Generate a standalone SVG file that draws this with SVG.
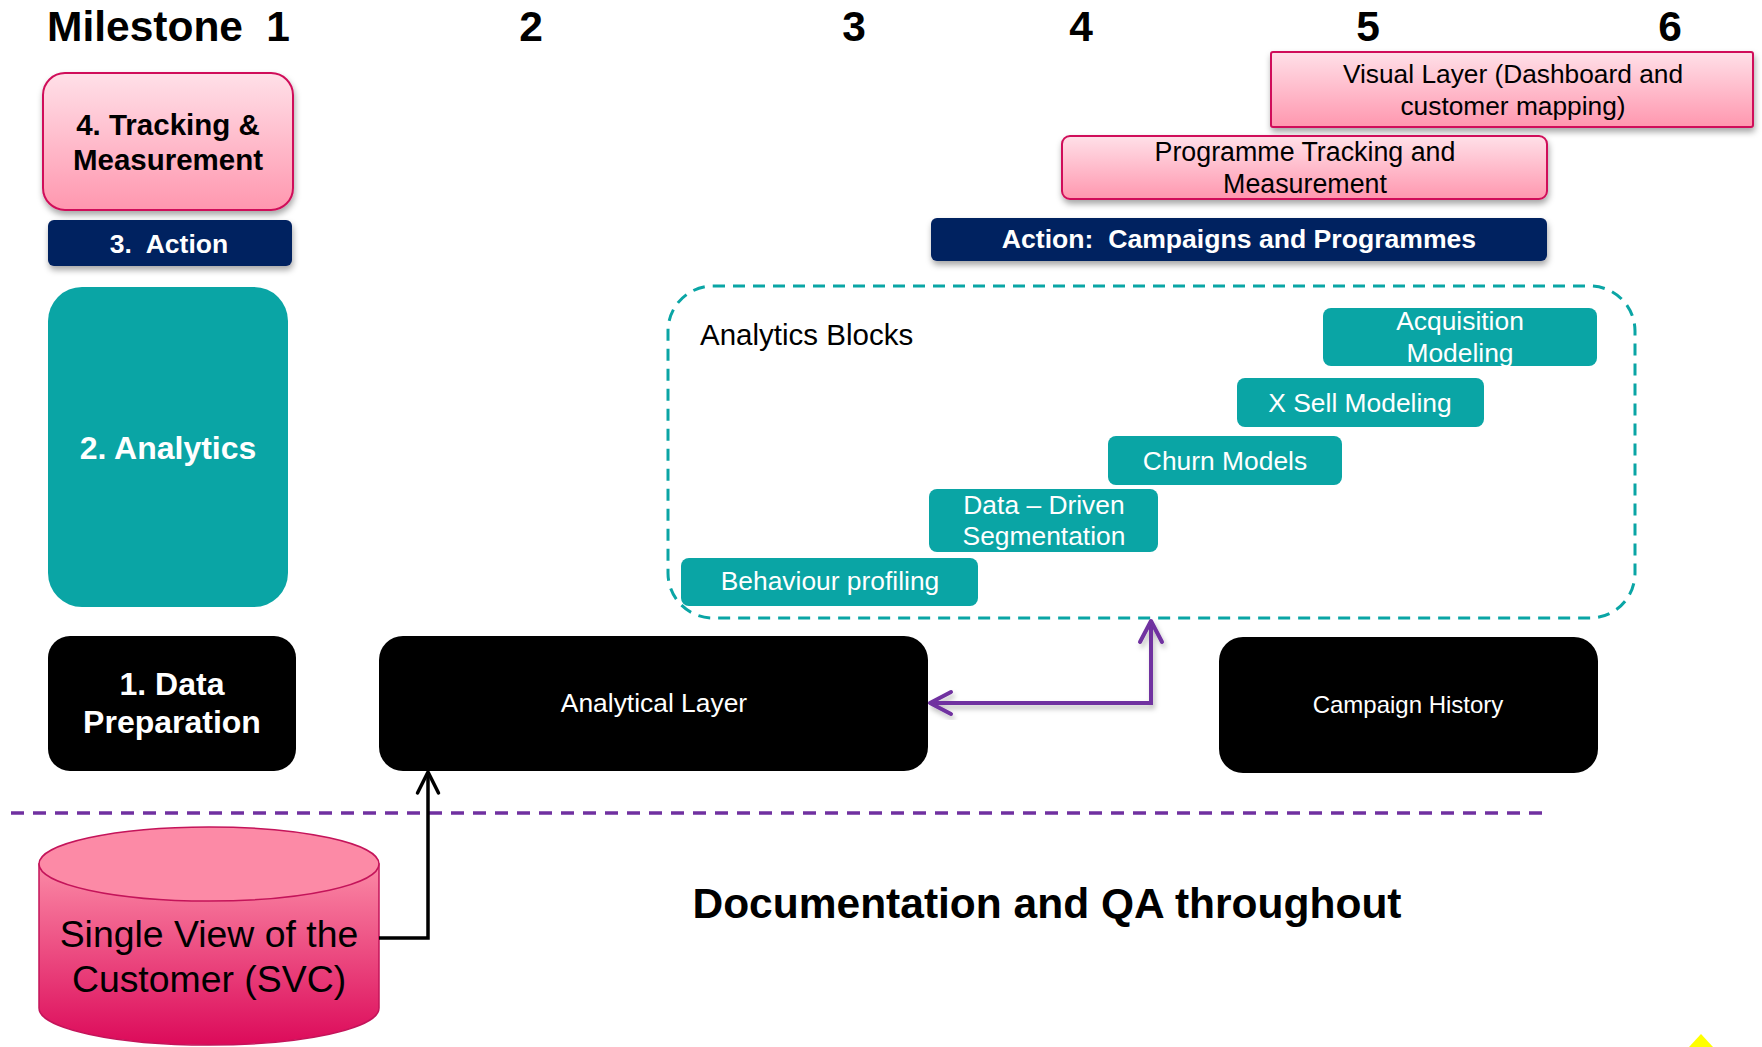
<svg xmlns="http://www.w3.org/2000/svg" width="1762" height="1047" viewBox="0 0 1762 1047">
  <defs>
    <style>
      text { font-family: "Liberation Sans", Arial, sans-serif; }
      .hdr { font-size: 42.5px; font-weight: bold; fill: #000; }
      .pinkbox { fill: url(#pinkGrad); stroke: #d0105a; stroke-width: 2; }
      .navy { fill: #002060; }
      .teal { fill: #0aa5a5; }
      .black { fill: #000; }
      .lbl-bold-dark { font-weight: bold; fill: #000; text-anchor: middle; }
      .lbl-bold-light { font-weight: bold; fill: #fff; text-anchor: middle; }
      .lbl-dark { fill: #000; text-anchor: middle; }
      .lbl-light { fill: #fff; text-anchor: middle; }
      .block-txt { font-size: 26.4px; fill: #fff; text-anchor: middle; }
      .shadowed { filter: url(#shadow); }
    </style>
    <linearGradient id="pinkGrad" x1="0" y1="0" x2="0" y2="1">
      <stop offset="0" stop-color="#ffe0e8"/>
      <stop offset="1" stop-color="#ff97af"/>
    </linearGradient>
    <linearGradient id="cylGrad" x1="0" y1="864" x2="0" y2="1045" gradientUnits="userSpaceOnUse">
      <stop offset="0" stop-color="#fb8aa6"/>
      <stop offset="1" stop-color="#dc0a5a"/>
    </linearGradient>
    <filter id="shadow" x="-10%" y="-20%" width="120%" height="160%">
      <feDropShadow dx="1" dy="4" stdDeviation="3" flood-color="#000" flood-opacity="0.35"/>
    </filter>
    <filter id="lineShadow" x="-10%" y="-10%" width="120%" height="130%">
      <feDropShadow dx="2" dy="4" stdDeviation="2.5" flood-color="#000" flood-opacity="0.25"/>
    </filter>
    <marker id="chevPurple" viewBox="-24 -14 28 28" refX="0" refY="0" markerWidth="28" markerHeight="28" markerUnits="userSpaceOnUse" orient="auto-start-reverse">
      <path d="M-21,-11 L0,0 L-21,11" fill="none" stroke="#7030a0" stroke-width="4" stroke-linecap="round" stroke-linejoin="round"/>
    </marker>
    <marker id="chevBlack" viewBox="-24 -14 28 28" refX="0" refY="0" markerWidth="28" markerHeight="28" markerUnits="userSpaceOnUse" orient="auto">
      <path d="M-21,-10.5 L0,0 L-21,10.5" fill="none" stroke="#000" stroke-width="3.5" stroke-linecap="round" stroke-linejoin="round"/>
    </marker>
  </defs>

  <rect width="1762" height="1047" fill="#fff"/>

  <!-- Milestone header -->
  <g id="milestones">
    <text class="hdr" x="47" y="41">Milestone</text>
    <text class="hdr" x="278" y="41" text-anchor="middle">1</text>
    <text class="hdr" x="531" y="41" text-anchor="middle">2</text>
    <text class="hdr" x="854" y="41" text-anchor="middle">3</text>
    <text class="hdr" x="1081" y="41" text-anchor="middle">4</text>
    <text class="hdr" x="1368" y="41" text-anchor="middle">5</text>
    <text class="hdr" x="1670" y="41" text-anchor="middle">6</text>
  </g>

  <!-- Left-hand stage column -->
  <g id="stage-tracking">
    <rect class="pinkbox shadowed" x="43" y="73" width="250" height="137" rx="22"/>
    <text class="lbl-bold-dark" x="168" y="135" font-size="29.5">4. Tracking &amp;</text>
    <text class="lbl-bold-dark" x="168" y="170" font-size="29.5">Measurement</text>
  </g>
  <g id="stage-action">
    <rect class="navy shadowed" x="48" y="220" width="244" height="46" rx="6"/>
    <text class="lbl-bold-light" x="169" y="253" font-size="26.5" xml:space="preserve">3.  Action</text>
  </g>
  <g id="stage-analytics">
    <rect class="teal" x="48" y="287" width="240" height="320" rx="34"/>
    <text class="lbl-bold-light" x="168" y="459" font-size="32">2. Analytics</text>
  </g>
  <g id="stage-data-prep">
    <rect class="black" x="48" y="636" width="248" height="135" rx="22"/>
    <text class="lbl-bold-light" x="172" y="695" font-size="32">1. Data</text>
    <text class="lbl-bold-light" x="172" y="733" font-size="32">Preparation</text>
  </g>

  <!-- Timeline bars -->
  <g id="visual-layer">
    <rect class="pinkbox shadowed" x="1271" y="52" width="482" height="75" rx="2" stroke-width="2.5"/>
    <text class="lbl-dark" x="1513" y="83" font-size="26.3">Visual Layer (Dashboard and</text>
    <text class="lbl-dark" x="1513" y="115" font-size="26.3">customer mapping)</text>
  </g>
  <g id="programme-tracking">
    <rect class="pinkbox shadowed" x="1062" y="136" width="485" height="63" rx="8"/>
    <text class="lbl-dark" x="1305" y="161" font-size="26.8">Programme Tracking and</text>
    <text class="lbl-dark" x="1305" y="193" font-size="26.8">Measurement</text>
  </g>
  <g id="action-campaigns">
    <rect class="navy shadowed" x="931" y="218" width="616" height="43" rx="6"/>
    <text class="lbl-bold-light" x="1239" y="248" font-size="26.6" xml:space="preserve">Action:  Campaigns and Programmes</text>
  </g>

  <!-- Analytics blocks container -->
  <g id="analytics-blocks">
    <rect x="668" y="286" width="967" height="332" rx="45" fill="none" stroke="#0aa5a5" stroke-width="3" stroke-dasharray="12 8"/>
    <text x="700" y="345" font-size="29.5" fill="#000">Analytics Blocks</text>
  </g>
  <g id="block-acquisition">
    <rect class="teal" x="1323" y="308" width="274" height="58" rx="8"/>
    <text class="block-txt" x="1460" y="330">Acquisition</text>
    <text class="block-txt" x="1460" y="362">Modeling</text>
  </g>
  <g id="block-xsell">
    <rect class="teal" x="1237" y="378" width="247" height="49" rx="8"/>
    <text class="block-txt" x="1360" y="412">X Sell Modeling</text>
  </g>
  <g id="block-churn">
    <rect class="teal" x="1108" y="436" width="234" height="49" rx="8"/>
    <text class="block-txt" x="1225" y="470">Churn Models</text>
  </g>
  <g id="block-segmentation">
    <rect class="teal" x="929" y="489" width="229" height="63" rx="8"/>
    <text class="block-txt" x="1044" y="514">Data – Driven</text>
    <text class="block-txt" x="1044" y="545">Segmentation</text>
  </g>
  <g id="block-behaviour">
    <rect class="teal" x="681" y="558" width="297" height="48" rx="8"/>
    <text class="block-txt" x="830" y="590">Behaviour profiling</text>
  </g>

  <!-- Data layers -->
  <g id="analytical-layer">
    <rect class="black" x="379" y="636" width="549" height="135" rx="24"/>
    <text class="lbl-light" x="654" y="712" font-size="26.4">Analytical Layer</text>
  </g>
  <g id="campaign-history">
    <rect class="black" x="1219" y="637" width="379" height="136" rx="24"/>
    <text class="lbl-light" x="1408" y="713" font-size="24">Campaign History</text>
  </g>

  <!-- Single customer view store -->
  <g id="svc">
    <path d="M39 864 V1008 A170 37 0 0 0 379 1008 V864 Z" fill="url(#cylGrad)" stroke="#c4145a" stroke-width="1.5"/>
    <ellipse cx="209" cy="864" rx="170" ry="37" fill="#fc8aa6" stroke="#c4145a" stroke-width="1.5"/>
    <text class="lbl-dark" x="209" y="947" font-size="37.4">Single View of the</text>
    <text class="lbl-dark" x="209" y="992" font-size="37.4">Customer (SVC)</text>
  </g>

  <!-- Divider and footer -->
  <line x1="11" y1="813" x2="1548" y2="813" stroke="#7030a0" stroke-width="3.5" stroke-dasharray="13 9"/>
  <text x="1047" y="918" font-size="42.5" font-weight="bold" text-anchor="middle" fill="#000">Documentation and QA throughout</text>
  <polygon points="1689,1047 1701,1034 1713,1047" fill="#ffff00"/>

  <!-- Connectors -->
  <g id="connectors">
    <path d="M930 703 H1151 V621" fill="none" stroke="#7030a0" stroke-width="4" filter="url(#lineShadow)" marker-start="url(#chevPurple)" marker-end="url(#chevPurple)"/>
    <path d="M379 938 H428 V772" fill="none" stroke="#000" stroke-width="3.5" marker-end="url(#chevBlack)"/>
  </g>
</svg>
